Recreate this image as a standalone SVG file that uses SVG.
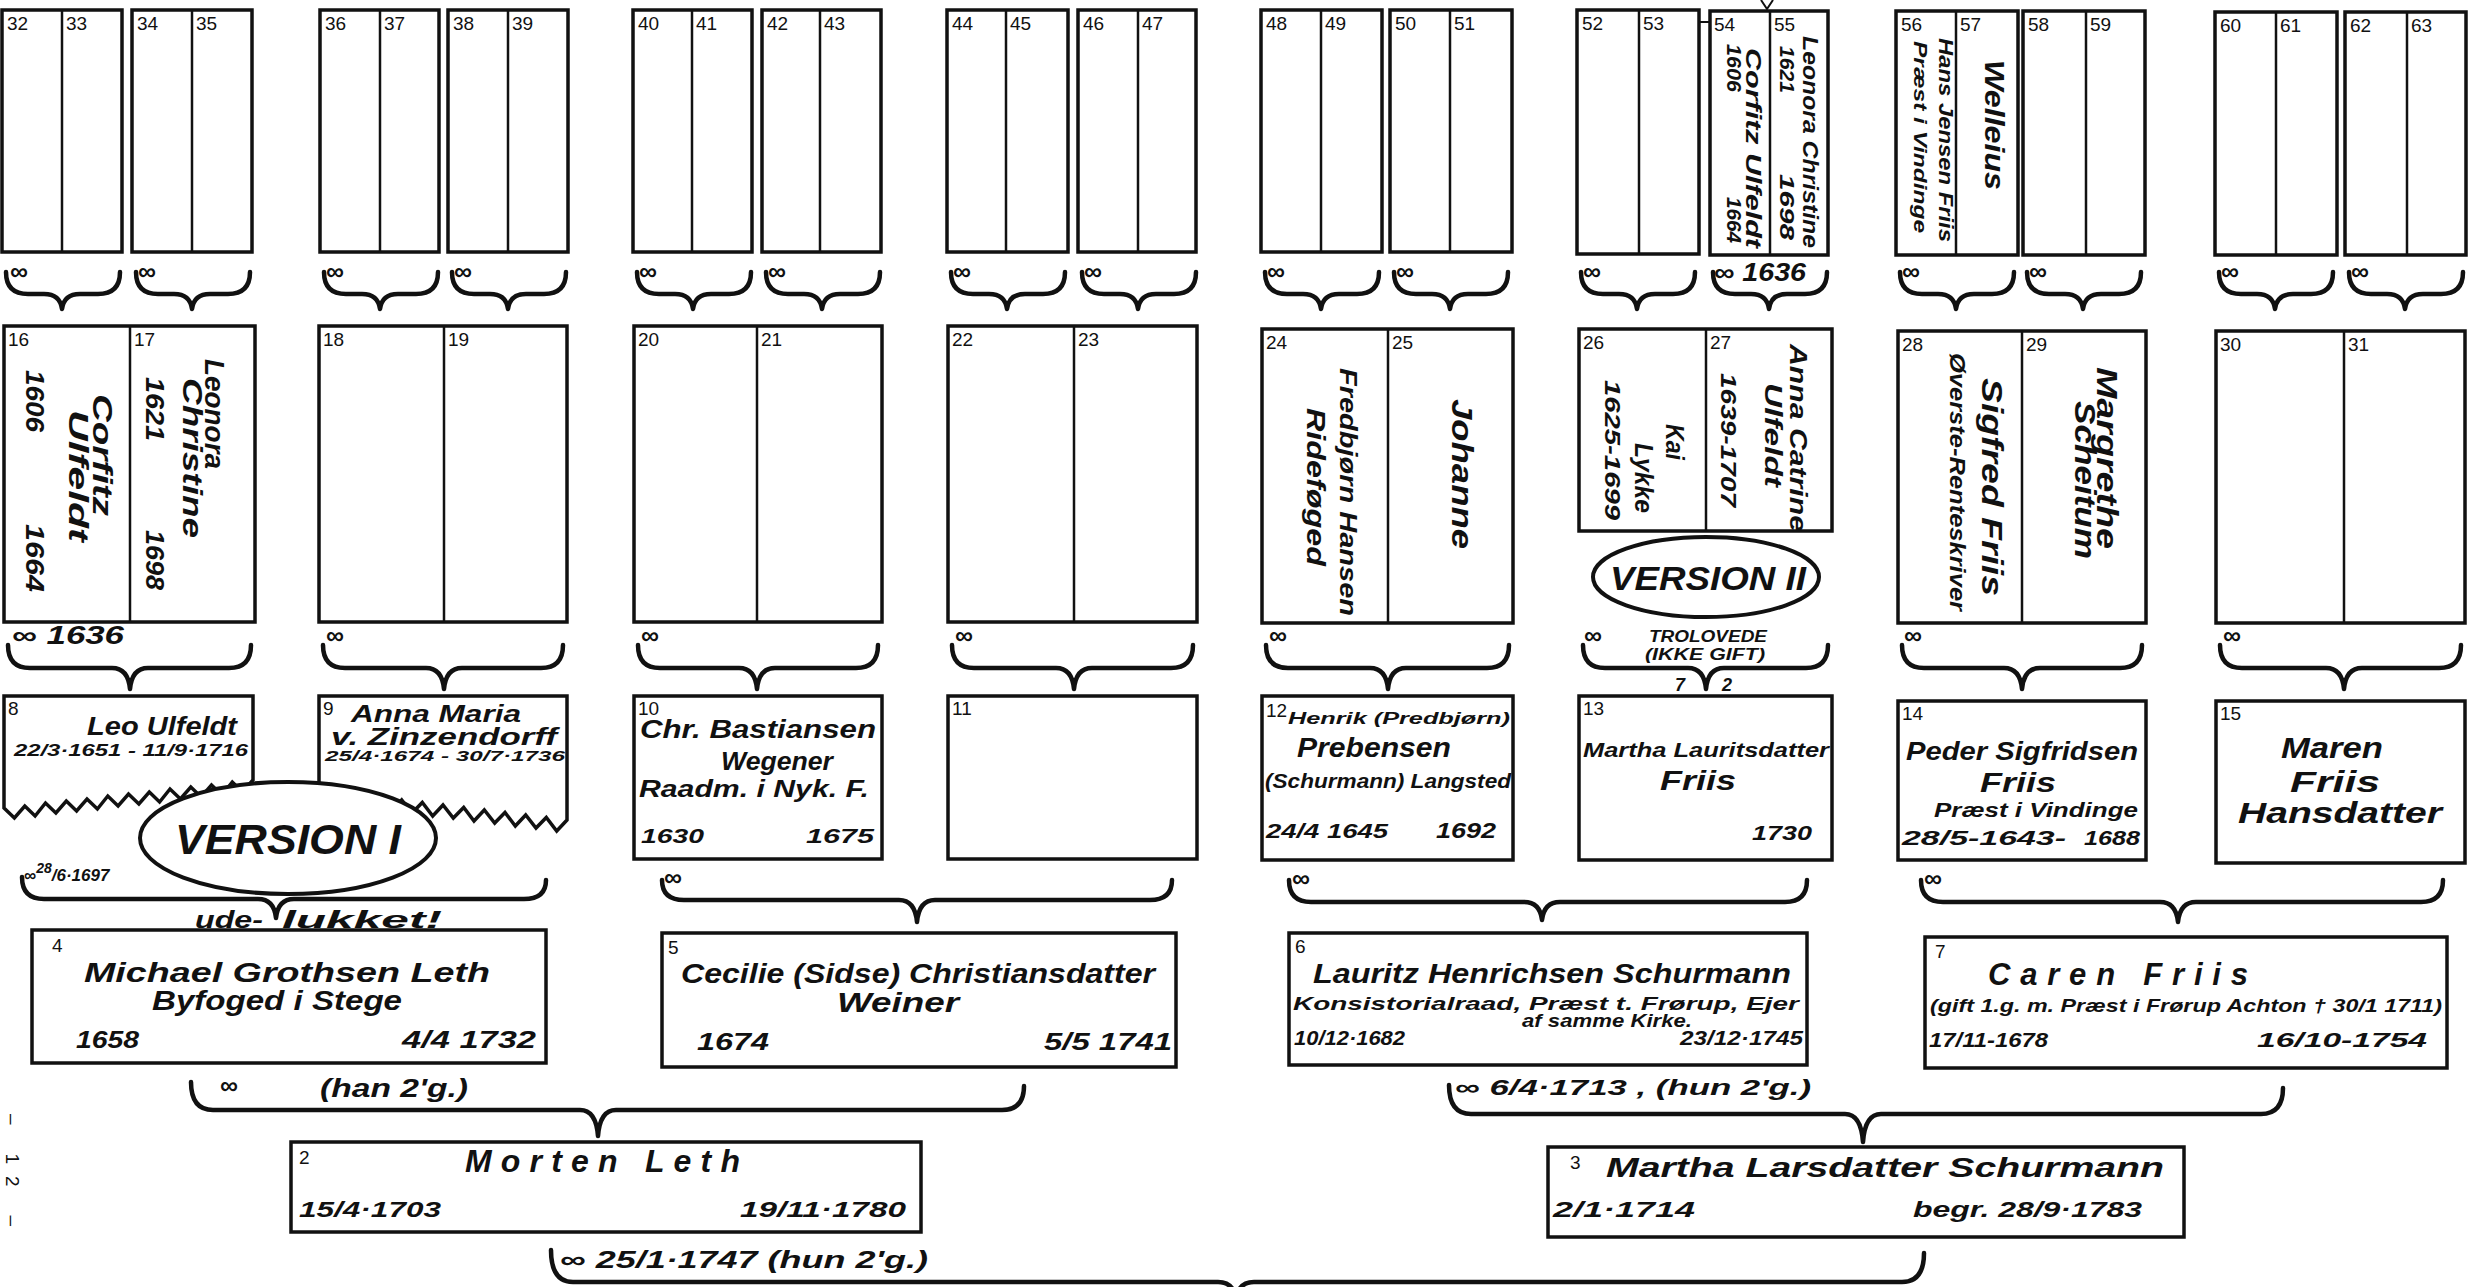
<svg xmlns="http://www.w3.org/2000/svg" width="2469" height="1287" viewBox="0 0 2469 1287">
<style>
.bx{fill:#fff;stroke:#111;stroke-width:3.5}
.dv{stroke:#111;stroke-width:2.5}
.br{fill:none;stroke:#111;stroke-width:4.5;stroke-linejoin:round;stroke-linecap:round}
.el{fill:#fff;stroke:#111;stroke-width:4}
.n{font-family:"Liberation Sans",Arial,sans-serif;font-size:19px;fill:#111}
.h{font-family:"Liberation Sans",Arial,sans-serif;font-style:italic;font-weight:bold;fill:#111}
.d{font-family:"Liberation Sans",Arial,sans-serif;font-style:italic;font-weight:bold;fill:#111}
.m{text-anchor:middle}
.e{text-anchor:end}
</style>
<rect width="2469" height="1287" fill="#fff"/>

<g id="connectors">
<path class="br" d="M6,272 Q6,294 28,294 L44,294 Q60,294 62,309 Q64,294 80,294 L98,294 Q120,294 120,272"/>
<path class="br" d="M136,272 Q136,294 158,294 L174,294 Q190,294 192,309 Q194,294 210,294 L228,294 Q250,294 250,272"/>
<path class="br" d="M324,272 Q324,294 346,294 L362,294 Q378,294 380,309 Q382,294 398,294 L416,294 Q438,294 438,272"/>
<path class="br" d="M452,272 Q452,294 474,294 L490,294 Q506,294 508,309 Q510,294 526,294 L544,294 Q566,294 566,272"/>
<path class="br" d="M637,272 Q637,294 659,294 L675,294 Q691,294 693,309 Q695,294 711,294 L729,294 Q751,294 751,272"/>
<path class="br" d="M766,272 Q766,294 788,294 L804,294 Q820,294 822,309 Q824,294 840,294 L858,294 Q880,294 880,272"/>
<path class="br" d="M951,272 Q951,294 973,294 L989,294 Q1005,294 1007,309 Q1009,294 1025,294 L1043,294 Q1065,294 1065,272"/>
<path class="br" d="M1082,272 Q1082,294 1104,294 L1120,294 Q1136,294 1138,309 Q1140,294 1156,294 L1174,294 Q1196,294 1196,272"/>
<path class="br" d="M1265,272 Q1265,294 1287,294 L1303,294 Q1319,294 1321,309 Q1323,294 1339,294 L1357,294 Q1379,294 1379,272"/>
<path class="br" d="M1394,272 Q1394,294 1416,294 L1432,294 Q1448,294 1450,309 Q1452,294 1468,294 L1486,294 Q1508,294 1508,272"/>
<path class="br" d="M1581,272 Q1581,294 1603,294 L1619,294 Q1635,294 1637,309 Q1639,294 1655,294 L1673,294 Q1695,294 1695,272"/>
<path class="br" d="M1713,272 Q1713,294 1735,294 L1751,294 Q1767,294 1769,309 Q1771,294 1787,294 L1805,294 Q1827,294 1827,272"/>
<path class="br" d="M1900,272 Q1900,294 1922,294 L1938,294 Q1954,294 1956,309 Q1958,294 1974,294 L1992,294 Q2014,294 2014,272"/>
<path class="br" d="M2027,272 Q2027,294 2049,294 L2065,294 Q2081,294 2083,309 Q2085,294 2101,294 L2119,294 Q2141,294 2141,272"/>
<path class="br" d="M2219,272 Q2219,294 2241,294 L2257,294 Q2273,294 2275,309 Q2277,294 2293,294 L2311,294 Q2333,294 2333,272"/>
<path class="br" d="M2349,272 Q2349,294 2371,294 L2387,294 Q2403,294 2405,309 Q2407,294 2423,294 L2441,294 Q2463,294 2463,272"/>

<path class="br" d="M8,645 Q8,668 30,668 L112,668 Q128,668 130,689 Q132,668 148,668 L229,668 Q251,668 251,645"/>
<path class="br" d="M323,645 Q323,668 345,668 L426,668 Q442,668 444,689 Q446,668 462,668 L541,668 Q563,668 563,645"/>
<path class="br" d="M638,645 Q638,668 660,668 L739,668 Q755,668 757,689 Q759,668 775,668 L856,668 Q878,668 878,645"/>
<path class="br" d="M952,645 Q952,668 974,668 L1056,668 Q1072,668 1074,689 Q1076,668 1092,668 L1171,668 Q1193,668 1193,645"/>
<path class="br" d="M1266,645 Q1266,668 1288,668 L1370,668 Q1386,668 1388,689 Q1390,668 1406,668 L1487,668 Q1509,668 1509,645"/>
<path class="br" d="M1583,645 Q1583,668 1605,668 L1688,668 Q1704,668 1706,689 Q1708,668 1724,668 L1806,668 Q1828,668 1828,645"/>
<path class="br" d="M1902,645 Q1902,668 1924,668 L2004,668 Q2020,668 2022,689 Q2024,668 2040,668 L2120,668 Q2142,668 2142,645"/>
<path class="br" d="M2220,645 Q2220,668 2242,668 L2326,668 Q2342,668 2344,689 Q2346,668 2362,668 L2439,668 Q2461,668 2461,645"/>

<path class="br" d="M22,877 Q22,899 44,899 L258,899 Q274,899 276,918 Q278,899 294,899 L524,899 Q546,899 546,880"/>
<path class="br" d="M662,880 Q662,900 684,900 L899,900 Q915,900 917,922 Q919,900 935,900 L1150,900 Q1172,900 1172,880"/>
<path class="br" d="M1289,880 Q1289,902 1311,902 L1524,902 Q1540,902 1542,920 Q1544,902 1560,902 L1785,902 Q1807,902 1807,880"/>
<path class="br" d="M1921,880 Q1921,902 1943,902 L2160,902 Q2176,902 2178,922 Q2180,902 2196,902 L2421,902 Q2443,902 2443,880"/>

<path class="br" d="M191,1082 Q191,1110 213,1110 L580,1110 Q596,1110 598,1136 Q600,1110 616,1110 L1002,1110 Q1024,1110 1024,1086"/>
<path class="br" d="M1449,1085 Q1449,1114 1471,1114 L1845,1114 Q1861,1114 1863,1142 Q1865,1114 1881,1114 L2261,1114 Q2283,1114 2283,1088"/>
<path class="br" d="M551,1250 Q551,1282 573,1282 L1218,1282 Q1234,1282 1236,1300 Q1238,1282 1254,1282 L1902,1282 Q1924,1282 1924,1253"/>

<path d="M1699,22 L1710,22" stroke="#111" stroke-width="2"/>
<path d="M1761,0 L1767,9 L1773,0" fill="none" stroke="#111" stroke-width="2"/>
</g>

<g id="gen6">
<g id="p32"><rect class="bx" x="2" y="10" width="120" height="242"/><line class="dv" x1="62" y1="10" x2="62" y2="252"/><text class="n" x="7" y="30">32</text><text class="n" x="66" y="30">33</text></g>
<g id="p34"><rect class="bx" x="132" y="10" width="120" height="242"/><line class="dv" x1="192" y1="10" x2="192" y2="252"/><text class="n" x="137" y="30">34</text><text class="n" x="196" y="30">35</text></g>
<g id="p36"><rect class="bx" x="320" y="10" width="119" height="242"/><line class="dv" x1="380" y1="10" x2="380" y2="252"/><text class="n" x="325" y="30">36</text><text class="n" x="384" y="30">37</text></g>
<g id="p38"><rect class="bx" x="448" y="10" width="120" height="242"/><line class="dv" x1="508" y1="10" x2="508" y2="252"/><text class="n" x="453" y="30">38</text><text class="n" x="512" y="30">39</text></g>
<g id="p40"><rect class="bx" x="633" y="10" width="119" height="242"/><line class="dv" x1="692" y1="10" x2="692" y2="252"/><text class="n" x="638" y="30">40</text><text class="n" x="696" y="30">41</text></g>
<g id="p42"><rect class="bx" x="762" y="10" width="119" height="242"/><line class="dv" x1="820" y1="10" x2="820" y2="252"/><text class="n" x="767" y="30">42</text><text class="n" x="824" y="30">43</text></g>
<g id="p44"><rect class="bx" x="947" y="10" width="121" height="242"/><line class="dv" x1="1006" y1="10" x2="1006" y2="252"/><text class="n" x="952" y="30">44</text><text class="n" x="1010" y="30">45</text></g>
<g id="p46"><rect class="bx" x="1078" y="10" width="118" height="242"/><line class="dv" x1="1138" y1="10" x2="1138" y2="252"/><text class="n" x="1083" y="30">46</text><text class="n" x="1142" y="30">47</text></g>
<g id="p48"><rect class="bx" x="1261" y="10" width="121" height="242"/><line class="dv" x1="1321" y1="10" x2="1321" y2="252"/><text class="n" x="1266" y="30">48</text><text class="n" x="1325" y="30">49</text></g>
<g id="p50"><rect class="bx" x="1390" y="10" width="122" height="242"/><line class="dv" x1="1450" y1="10" x2="1450" y2="252"/><text class="n" x="1395" y="30">50</text><text class="n" x="1454" y="30">51</text></g>
<g id="p52"><rect class="bx" x="1577" y="10" width="122" height="244"/><line class="dv" x1="1639" y1="10" x2="1639" y2="254"/><text class="n" x="1582" y="30">52</text><text class="n" x="1643" y="30">53</text></g>
<g id="p54"><rect class="bx" x="1710" y="11" width="118" height="244"/><line class="dv" x1="1770" y1="11" x2="1770" y2="255"/><text class="n" x="1714" y="31">54</text><text class="n" x="1774" y="31">55</text>
<text class="h" font-size="22" transform="translate(1746,148) rotate(90)" text-anchor="middle" textLength="200" lengthAdjust="spacingAndGlyphs">Corfitz Ulfeldt</text>
<text class="h" font-size="20" transform="translate(1727,44) rotate(90)" textLength="48" lengthAdjust="spacingAndGlyphs">1606</text>
<text class="h" font-size="20" transform="translate(1727,243) rotate(90)" text-anchor="end" textLength="46" lengthAdjust="spacingAndGlyphs">1664</text>
<text class="h" font-size="22" transform="translate(1803,142) rotate(90)" text-anchor="middle" textLength="212" lengthAdjust="spacingAndGlyphs">Leonora Christine</text>
<text class="h" font-size="20" transform="translate(1780,46) rotate(90)" textLength="47" lengthAdjust="spacingAndGlyphs">1621</text>
<text class="h" font-size="20" transform="translate(1780,240) rotate(90)" text-anchor="end" textLength="66" lengthAdjust="spacingAndGlyphs">1698</text>
</g>
<g id="p56"><rect class="bx" x="1896" y="11" width="122" height="244"/><line class="dv" x1="1956" y1="11" x2="1956" y2="255"/><text class="n" x="1901" y="31">56</text><text class="n" x="1960" y="31">57</text>
<text class="h" font-size="20" transform="translate(1939,140) rotate(90)" text-anchor="middle" textLength="204" lengthAdjust="spacingAndGlyphs">Hans Jensen Friis</text>
<text class="h" font-size="19" transform="translate(1914,137) rotate(90)" text-anchor="middle" textLength="192" lengthAdjust="spacingAndGlyphs">Præst i Vindinge</text>
<text class="h" font-size="28" transform="translate(1985,125) rotate(90)" text-anchor="middle" textLength="130" lengthAdjust="spacingAndGlyphs">Welleius</text>
</g>
<g id="p58"><rect class="bx" x="2023" y="11" width="122" height="244"/><line class="dv" x1="2086" y1="11" x2="2086" y2="255"/><text class="n" x="2028" y="31">58</text><text class="n" x="2090" y="31">59</text></g>
<g id="p60"><rect class="bx" x="2215" y="12" width="122" height="243"/><line class="dv" x1="2276" y1="12" x2="2276" y2="255"/><text class="n" x="2220" y="32">60</text><text class="n" x="2280" y="32">61</text></g>
<g id="p62"><rect class="bx" x="2345" y="12" width="121" height="243"/><line class="dv" x1="2407" y1="12" x2="2407" y2="255"/><text class="n" x="2350" y="32">62</text><text class="n" x="2411" y="32">63</text></g>
</g>

<g id="marr6" class="h" font-size="25">
<text x="10" y="280">∞</text><text x="138" y="280">∞</text><text x="326" y="280">∞</text><text x="454" y="280">∞</text>
<text x="639" y="280">∞</text><text x="768" y="280">∞</text><text x="953" y="280">∞</text><text x="1084" y="280">∞</text>
<text x="1267" y="280">∞</text><text x="1396" y="280">∞</text><text x="1583" y="280">∞</text><text x="1714" y="281" textLength="92" lengthAdjust="spacingAndGlyphs">∞ 1636</text>
<text x="1902" y="280">∞</text><text x="2029" y="280">∞</text><text x="2221" y="280">∞</text><text x="2351" y="280">∞</text>
</g>

<g id="gen5">
<g id="p16"><rect class="bx" x="4" y="326" width="251" height="296"/><line class="dv" x1="130" y1="326" x2="130" y2="622"/><text class="n" x="8" y="346">16</text><text class="n" x="134" y="346">17</text>
<text class="h" font-size="28" transform="translate(93,455) rotate(90)" text-anchor="middle" textLength="122" lengthAdjust="spacingAndGlyphs">Corfitz</text>
<text class="h" font-size="28" transform="translate(69,476) rotate(90)" text-anchor="middle" textLength="132" lengthAdjust="spacingAndGlyphs">Ulfeldt</text>
<text class="h" font-size="26" transform="translate(26,370) rotate(90)" textLength="62" lengthAdjust="spacingAndGlyphs">1606</text>
<text class="h" font-size="26" transform="translate(26,592) rotate(90)" text-anchor="end" textLength="68" lengthAdjust="spacingAndGlyphs">1664</text>
<text class="h" font-size="28" transform="translate(205,414) rotate(90)" text-anchor="middle" textLength="110" lengthAdjust="spacingAndGlyphs">Leonora</text>
<text class="h" font-size="28" transform="translate(183,458) rotate(90)" text-anchor="middle" textLength="160" lengthAdjust="spacingAndGlyphs">Christine</text>
<text class="h" font-size="26" transform="translate(146,377) rotate(90)" textLength="64" lengthAdjust="spacingAndGlyphs">1621</text>
<text class="h" font-size="26" transform="translate(146,590) rotate(90)" text-anchor="end" textLength="60" lengthAdjust="spacingAndGlyphs">1698</text>
</g>
<g id="p18"><rect class="bx" x="319" y="326" width="248" height="296"/><line class="dv" x1="444" y1="326" x2="444" y2="622"/><text class="n" x="323" y="346">18</text><text class="n" x="448" y="346">19</text></g>
<g id="p20"><rect class="bx" x="634" y="326" width="248" height="296"/><line class="dv" x1="757" y1="326" x2="757" y2="622"/><text class="n" x="638" y="346">20</text><text class="n" x="761" y="346">21</text></g>
<g id="p22"><rect class="bx" x="948" y="326" width="249" height="296"/><line class="dv" x1="1074" y1="326" x2="1074" y2="622"/><text class="n" x="952" y="346">22</text><text class="n" x="1078" y="346">23</text></g>
<g id="p24"><rect class="bx" x="1262" y="329" width="251" height="294"/><line class="dv" x1="1388" y1="329" x2="1388" y2="623"/><text class="n" x="1266" y="349">24</text><text class="n" x="1392" y="349">25</text>
<text class="h" font-size="24" transform="translate(1340,492) rotate(90)" text-anchor="middle" textLength="248" lengthAdjust="spacingAndGlyphs">Fredbjørn Hansen</text>
<text class="h" font-size="25" transform="translate(1307,487) rotate(90)" text-anchor="middle" textLength="158" lengthAdjust="spacingAndGlyphs">Rideføged</text>
<text class="h" font-size="30" transform="translate(1452,474) rotate(90)" text-anchor="middle" textLength="150" lengthAdjust="spacingAndGlyphs">Johanne</text>
</g>
<g id="p26"><rect class="bx" x="1579" y="329" width="253" height="202"/><line class="dv" x1="1706" y1="329" x2="1706" y2="531"/><text class="n" x="1583" y="349">26</text><text class="n" x="1710" y="349">27</text>
<text class="h" font-size="25" transform="translate(1666,442) rotate(90)" text-anchor="middle" textLength="36" lengthAdjust="spacingAndGlyphs">Kai</text>
<text class="h" font-size="25" transform="translate(1635,478) rotate(90)" text-anchor="middle" textLength="70" lengthAdjust="spacingAndGlyphs">Lykke</text>
<text class="h" font-size="22" transform="translate(1605,450) rotate(90)" text-anchor="middle" textLength="140" lengthAdjust="spacingAndGlyphs">1625-1699</text>
<text class="h" font-size="23" transform="translate(1790,438) rotate(90)" text-anchor="middle" textLength="188" lengthAdjust="spacingAndGlyphs">Anna Catrine</text>
<text class="h" font-size="23" transform="translate(1765,435) rotate(90)" text-anchor="middle" textLength="104" lengthAdjust="spacingAndGlyphs">Ulfeldt</text>
<text class="h" font-size="22" transform="translate(1721,440) rotate(90)" text-anchor="middle" textLength="134" lengthAdjust="spacingAndGlyphs">1639-1707</text>
</g>
<g id="p28"><rect class="bx" x="1898" y="331" width="248" height="292"/><line class="dv" x1="2022" y1="331" x2="2022" y2="623"/><text class="n" x="1902" y="351">28</text><text class="n" x="2026" y="351">29</text>
<text class="h" font-size="29" transform="translate(1982,487) rotate(90)" text-anchor="middle" textLength="218" lengthAdjust="spacingAndGlyphs">Sigfred Friis</text>
<text class="h" font-size="22" transform="translate(1950,482) rotate(90)" text-anchor="middle" textLength="258" lengthAdjust="spacingAndGlyphs">Øverste-Renteskriver</text>
<text class="h" font-size="29" transform="translate(2097,458) rotate(90)" text-anchor="middle" textLength="182" lengthAdjust="spacingAndGlyphs">Margrethe</text>
<text class="h" font-size="29" transform="translate(2075,480) rotate(90)" text-anchor="middle" textLength="158" lengthAdjust="spacingAndGlyphs">Scheitum</text>
</g>
<g id="p30"><rect class="bx" x="2216" y="331" width="249" height="292"/><line class="dv" x1="2344" y1="331" x2="2344" y2="623"/><text class="n" x="2220" y="351">30</text><text class="n" x="2348" y="351">31</text></g>
<g id="v2"><ellipse class="el" cx="1706" cy="577" rx="113" ry="40"/><text class="h m" font-size="34" x="1708" y="590" textLength="196" lengthAdjust="spacingAndGlyphs">VERSION II</text></g>
</g>

<g id="marr5">
<text class="h" font-size="25" x="12" y="644" textLength="112" lengthAdjust="spacingAndGlyphs">∞ 1636</text>
<text class="h" font-size="25" x="326" y="644">∞</text>
<text class="h" font-size="25" x="641" y="644">∞</text>
<text class="h" font-size="25" x="955" y="644">∞</text>
<text class="h" font-size="25" x="1269" y="644">∞</text>
<text class="h" font-size="25" x="1584" y="644">∞</text>
<text class="d m" font-size="16" x="1708" y="642" textLength="118" lengthAdjust="spacingAndGlyphs">TROLOVEDE</text>
<text class="d m" font-size="16" x="1705" y="660" textLength="120" lengthAdjust="spacingAndGlyphs">(IKKE GIFT)</text>
<text class="h" font-size="18" x="1675" y="691">7</text>
<text class="h" font-size="18" x="1722" y="691">2</text>
<text class="h" font-size="25" x="1904" y="644">∞</text>
<text class="h" font-size="25" x="2223" y="644">∞</text>
</g>

<g id="gen4">
<g id="p8"><path class="bx" d="M4,808 L4,696 L253,696 L253,780 L242.6,792 L232.3,782 L221.9,795 L211.5,785 L201.1,797 L190.8,787 L180.4,799 L170,789 L159.6,802 L149.3,792 L138.9,804 L128.5,794 L118.1,806 L107.8,796 L97.4,809 L87,799 L76.6,811 L66.3,801 L55.9,813 L45.5,803 L35.1,816 L24.8,806 L14.4,818 Z"/>
<text class="n" x="8" y="715">8</text>
<text class="h m" font-size="25" x="162" y="735" textLength="150" lengthAdjust="spacingAndGlyphs">Leo Ulfeldt</text>
<text class="d m" font-size="16" x="131" y="756" textLength="234" lengthAdjust="spacingAndGlyphs">22/3·1651 - 11/9·1716</text></g>
<g id="p9"><path class="bx" d="M319,790 L319,696 L567,696 L567,820 L556.7,831 L546.3,817.5 L536,828 L525.7,815 L515.3,826 L505,812.5 L494.7,823 L484.3,810 L474,821 L463.7,807.5 L453.3,818 L443,805 L432.7,816 L422.3,802.5 L412,813 L401.7,800 L391.3,811 L381,797.5 L370.7,808 L360.3,795 L350,806 L339.7,792.5 L329.3,803 Z"/>
<text class="n" x="323" y="715" font-size="21">9</text>
<text class="h m" font-size="23" x="436" y="722" textLength="170" lengthAdjust="spacingAndGlyphs">Anna Maria</text>
<text class="h m" font-size="23" x="444" y="745" textLength="226" lengthAdjust="spacingAndGlyphs">v. Zinzendorff</text>
<text class="d m" font-size="15" x="445" y="761" textLength="240" lengthAdjust="spacingAndGlyphs">25/4·1674 - 30/7·1736</text></g>
<g id="p10"><rect class="bx" x="634" y="696" width="248" height="163"/><text class="n" x="638" y="715">10</text>
<text class="h m" font-size="25" x="758" y="738" textLength="236" lengthAdjust="spacingAndGlyphs">Chr. Bastiansen</text>
<text class="h m" font-size="26" x="777" y="770" textLength="112" lengthAdjust="spacingAndGlyphs">Wegener</text>
<text class="h" font-size="23" x="639" y="797" textLength="230" lengthAdjust="spacingAndGlyphs">Raadm. i Nyk. F.</text>
<text class="d" font-size="21" x="641" y="843" textLength="63" lengthAdjust="spacingAndGlyphs">1630</text>
<text class="d e" font-size="21" x="874" y="843" textLength="68" lengthAdjust="spacingAndGlyphs">1675</text></g>
<g id="p11"><rect class="bx" x="948" y="696" width="249" height="163"/><text class="n" x="952" y="715">11</text></g>
<g id="p12"><rect class="bx" x="1262" y="696" width="251" height="164"/><text class="n" x="1266" y="717" font-size="16">12</text>
<text class="h" font-size="16" x="1288" y="724" textLength="222" lengthAdjust="spacingAndGlyphs">Henrik (Predbjørn)</text>
<text class="h m" font-size="27" x="1374" y="757" textLength="154" lengthAdjust="spacingAndGlyphs">Prebensen</text>
<text class="h" font-size="20" x="1265" y="788" textLength="246" lengthAdjust="spacingAndGlyphs">(Schurmann) Langsted</text>
<text class="d" font-size="20" x="1266" y="838" textLength="122" lengthAdjust="spacingAndGlyphs">24/4 1645</text>
<text class="d e" font-size="22" x="1496" y="838" textLength="60" lengthAdjust="spacingAndGlyphs">1692</text></g>
<g id="p13"><rect class="bx" x="1579" y="696" width="253" height="164"/><text class="n" x="1583" y="715">13</text>
<text class="h" font-size="21" x="1583" y="757" textLength="246" lengthAdjust="spacingAndGlyphs">Martha Lauritsdatter</text>
<text class="h m" font-size="27" x="1698" y="790" textLength="76" lengthAdjust="spacingAndGlyphs">Friis</text>
<text class="d e" font-size="21" x="1812" y="840" textLength="60" lengthAdjust="spacingAndGlyphs">1730</text></g>
<g id="p14"><rect class="bx" x="1898" y="701" width="248" height="159"/><text class="n" x="1902" y="720">14</text>
<text class="h m" font-size="25" x="2022" y="760" textLength="232" lengthAdjust="spacingAndGlyphs">Peder Sigfridsen</text>
<text class="h m" font-size="27" x="2018" y="792" textLength="76" lengthAdjust="spacingAndGlyphs">Friis</text>
<text class="h m" font-size="20" x="2036" y="817" textLength="204" lengthAdjust="spacingAndGlyphs">Præst i Vindinge</text>
<text class="d" font-size="20" x="1902" y="845" textLength="164" lengthAdjust="spacingAndGlyphs">28/5-1643-</text>
<text class="d e" font-size="20" x="2140" y="845" textLength="56" lengthAdjust="spacingAndGlyphs">1688</text></g>
<g id="p15"><rect class="bx" x="2216" y="701" width="249" height="162"/><text class="n" x="2220" y="720">15</text>
<text class="h m" font-size="29" x="2332" y="758" textLength="102" lengthAdjust="spacingAndGlyphs">Maren</text>
<text class="h m" font-size="29" x="2335" y="792" textLength="90" lengthAdjust="spacingAndGlyphs">Friis</text>
<text class="h m" font-size="29" x="2340" y="823" textLength="204" lengthAdjust="spacingAndGlyphs">Hansdatter</text></g>
<g id="v1"><ellipse class="el" cx="288" cy="838" rx="148" ry="56"/><text class="h m" font-size="42" x="288" y="854" textLength="226" lengthAdjust="spacingAndGlyphs">VERSION I</text></g>
</g>

<g id="marr4">
<text class="d" font-size="17" x="24" y="881">∞<tspan font-size="14" dy="-8">28</tspan><tspan dy="8">/6·1697</tspan></text>
<text class="h" font-size="23" x="195" y="928" textLength="68" lengthAdjust="spacingAndGlyphs">ude-</text>
<text class="h" font-size="23" x="282" y="928" textLength="160" lengthAdjust="spacingAndGlyphs">lukket!</text>
<text class="h" font-size="25" x="664" y="886">∞</text>
<text class="h" font-size="25" x="1292" y="887">∞</text>
<text class="h" font-size="25" x="1924" y="887">∞</text>
</g>

<g id="gen3">
<g id="p4"><rect class="bx" x="32" y="930" width="514" height="133"/><text class="n" x="52" y="952" font-size="21">4</text>
<text class="h m" font-size="28" x="287" y="982" textLength="406" lengthAdjust="spacingAndGlyphs">Michael Grothsen Leth</text>
<text class="h m" font-size="28" x="277" y="1010" textLength="250" lengthAdjust="spacingAndGlyphs">Byfoged i Stege</text>
<text class="d" font-size="23" x="76" y="1048" textLength="63" lengthAdjust="spacingAndGlyphs">1658</text>
<text class="d e" font-size="23" x="536" y="1048" textLength="134" lengthAdjust="spacingAndGlyphs">4/4 1732</text></g>
<g id="p5"><rect class="bx" x="662" y="933" width="514" height="134"/><text class="n" x="668" y="954" font-size="21">5</text>
<text class="h m" font-size="27" x="918" y="983" textLength="474" lengthAdjust="spacingAndGlyphs">Cecilie (Sidse) Christiansdatter</text>
<text class="h m" font-size="28" x="898" y="1012" textLength="122" lengthAdjust="spacingAndGlyphs">Weiner</text>
<text class="d" font-size="23" x="697" y="1050" textLength="72" lengthAdjust="spacingAndGlyphs">1674</text>
<text class="d e" font-size="23" x="1172" y="1050" textLength="128" lengthAdjust="spacingAndGlyphs">5/5 1741</text></g>
<g id="p6"><rect class="bx" x="1289" y="933" width="518" height="132"/><text class="n" x="1295" y="953" font-size="19">6</text>
<text class="h m" font-size="27" x="1552" y="983" textLength="478" lengthAdjust="spacingAndGlyphs">Lauritz Henrichsen Schurmann</text>
<text class="h m" font-size="19" x="1546" y="1010" textLength="506" lengthAdjust="spacingAndGlyphs">Konsistorialraad, Præst t. Frørup, Ejer</text>
<text class="h m" font-size="19" x="1607" y="1027" textLength="170" lengthAdjust="spacingAndGlyphs">af samme Kirke.</text>
<text class="d" font-size="20" x="1294" y="1045" textLength="111" lengthAdjust="spacingAndGlyphs">10/12·1682</text>
<text class="d e" font-size="20" x="1803" y="1045" textLength="123" lengthAdjust="spacingAndGlyphs">23/12·1745</text></g>
<g id="p7"><rect class="bx" x="1925" y="937" width="522" height="131"/><text class="n" x="1935" y="958" font-size="19">7</text>
<text class="h m" font-size="31" x="2118" y="985" textLength="260">Caren  Friis</text>
<text class="h m" font-size="19" x="2186" y="1012" textLength="512" lengthAdjust="spacingAndGlyphs">(gift 1.g. m. Præst i Frørup Achton † 30/1 1711)</text>
<text class="d" font-size="20" x="1929" y="1047" textLength="119" lengthAdjust="spacingAndGlyphs">17/11-1678</text>
<text class="d e" font-size="20" x="2427" y="1047" textLength="170" lengthAdjust="spacingAndGlyphs">16/10-1754</text></g>
</g>

<g id="marr3">
<text class="h" font-size="25" x="220" y="1094">∞</text>
<text class="h" font-size="25" x="320" y="1097" textLength="148" lengthAdjust="spacingAndGlyphs">(han 2'g.)</text>
<text class="h" font-size="22" x="1455" y="1095" textLength="356" lengthAdjust="spacingAndGlyphs">∞ 6/4·1713 , (hun 2'g.)</text>
</g>

<g id="gen2">
<g id="p2"><rect class="bx" x="291" y="1142" width="630" height="90"/><text class="n" x="299" y="1164" font-size="19">2</text>
<text class="h" font-size="32" x="465" y="1172" textLength="275">Morten Leth</text>
<text class="d" font-size="22" x="299" y="1217" textLength="142" lengthAdjust="spacingAndGlyphs">15/4·1703</text>
<text class="d e" font-size="22" x="906" y="1217" textLength="166" lengthAdjust="spacingAndGlyphs">19/11·1780</text></g>
<g id="p3"><rect class="bx" x="1548" y="1147" width="636" height="90"/><text class="n" x="1570" y="1169" font-size="19">3</text>
<text class="h" font-size="27" x="1606" y="1177" textLength="558" lengthAdjust="spacingAndGlyphs">Martha Larsdatter Schurmann</text>
<text class="d" font-size="22" x="1553" y="1217" textLength="142" lengthAdjust="spacingAndGlyphs">2/1·1714</text>
<text class="d e" font-size="22" x="2142" y="1217" textLength="229" lengthAdjust="spacingAndGlyphs">begr. 28/9·1783</text></g>
</g>

<g id="marr2">
<text class="h" font-size="24" x="560" y="1268" textLength="368" lengthAdjust="spacingAndGlyphs">∞ 25/1·1747 (hun 2'g.)</text>
</g>

<text class="n" font-size="30" transform="translate(6,1170) rotate(90)" text-anchor="middle" textLength="112" lengthAdjust="spacing">–  12  –</text>
</svg>
